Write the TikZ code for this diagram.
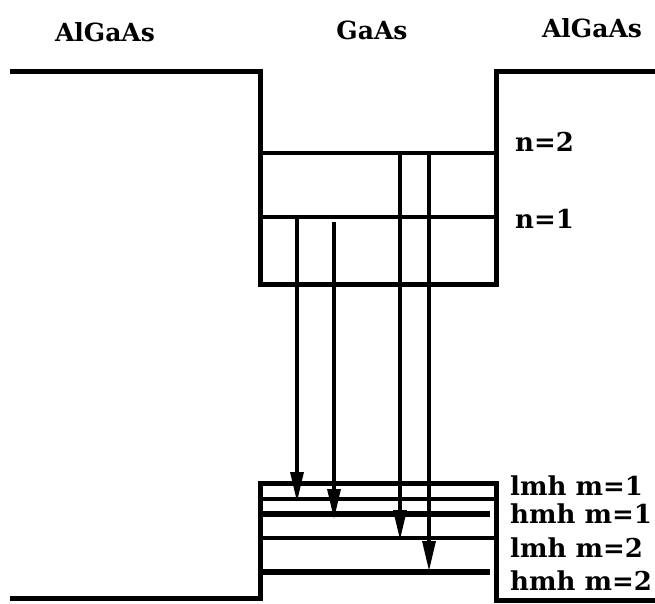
\documentclass[tikz,border=0pt]{standalone}
\usepackage{fontspec}
\setmainfont{DejaVu Serif}
\usetikzlibrary{arrows.meta}
\begin{document}
\begin{tikzpicture}[x=1pt,y=-1pt,
  band/.style={line width=5pt,line join=miter},
  lvl/.style={line width=3.4pt},
  lvlthick/.style={line width=5.5pt},
  trans/.style={line width=3.2pt,-{Triangle[length=30pt,width=13pt]}},
  lab/.style={font=\fontsize{26}{30}\selectfont\bfseries,inner sep=0pt,anchor=base west},
  ttl/.style={font=\fontsize{25}{30}\selectfont\bfseries,inner sep=0pt,anchor=base}]
\useasboundingbox (0,0) rectangle (655,604);
% coordinates
\coordinate (cl0) at (10,72);
\coordinate (cl1) at (260,72);
\coordinate (cl2) at (260,284);
\coordinate (cr2) at (496,284);
\coordinate (cr1) at (496,72);
\coordinate (cr0) at (655,72);
\coordinate (vl0) at (10,598);
\coordinate (vl1) at (260,598);
\coordinate (vl2) at (260,483);
\coordinate (vr2) at (496,483);
\coordinate (vr1) at (496,600);
\coordinate (vr0) at (655,600);
% band edges
\draw[band] (cl0) -- (cl1) -- (cl2) -- (cr2) -- (cr1) -- (cr0);
\draw[band] (vl0) -- (vl1) -- (vl2) -- (vr2) -- (vr1) -- (vr0);
% electron levels
\coordinate (n2a) at (260,153); \coordinate (n2b) at (496,153);
\coordinate (n1a) at (260,217); \coordinate (n1b) at (496,217);
\draw[lvl] (n2a) -- (n2b);
\draw[lvl] (n1a) -- (n1b);
% hole levels
\coordinate (l1a) at (260,499); \coordinate (l1b) at (496,499);
\coordinate (h1a) at (260,514); \coordinate (h1b) at (490,514);
\coordinate (l2a) at (260,538); \coordinate (l2b) at (496,538);
\coordinate (h2a) at (260,572); \coordinate (h2b) at (490,572);
\draw[lvl] (l1a) -- (l1b);
\draw[lvlthick] (h1a) -- (h1b);
\draw[lvl] (l2a) -- (l2b);
\draw[lvlthick] (h2a) -- (h2b);
% transitions
\coordinate (t1s) at (297,217); \coordinate (t1e) at (297,502);
\coordinate (t2s) at (334,222); \coordinate (t2e) at (334,519);
\coordinate (t3s) at (400,153); \coordinate (t3e) at (400,540);
\coordinate (t4s) at (429,153); \coordinate (t4e) at (429,571);
\draw[trans] (t1s) -- (t1e);
\draw[trans] (t2s) -- (t2e);
\draw[trans] (t3s) -- (t3e);
\draw[trans] (t4s) -- (t4e);
% labels
\node[ttl] (tl) at (105,42) {AlGaAs};
\node[ttl] (tm) at (372,40) {GaAs};
\node[ttl] (tr) at (592,38) {AlGaAs};
\node[lab] (ln2) at (515,152) {n=2};
\node[lab] (ln1) at (515,228) {n=1};
\node[lab] (lm1) at (510,495) {lmh m=1};
\node[lab] (hm1) at (510,523) {hmh m=1};
\node[lab] (lm2) at (510,557) {lmh m=2};
\node[lab] (hm2) at (510,590) {hmh m=2};
\end{tikzpicture}
\end{document}
